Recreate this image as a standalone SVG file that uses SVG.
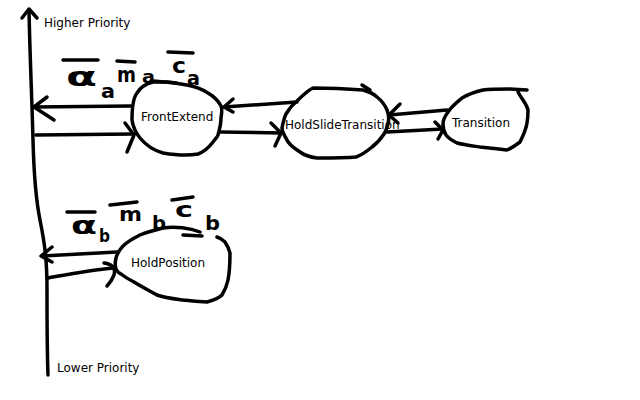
<svg xmlns="http://www.w3.org/2000/svg" width="640" height="400" viewBox="0 0 640 400">
<style>
.s{fill:none;stroke:#000;stroke-width:3.5;stroke-linecap:round;stroke-linejoin:round}
.t{font-family:"DejaVu Sans",sans-serif;font-size:12px;fill:#000}
.h{font-family:"DejaVu Sans",sans-serif;font-weight:bold;fill:#000}
</style>
<rect width="640" height="400" fill="#fff"/>
<g id="axis">
<path class="s" d="M29 10 C30 60 32 100 33 140 C34 180 36 200 40 220 C45 245 47 260 47 290 C47 320 47 350 48 375"/>
<path class="s" d="M22 18 L29 9 L37 18"/>
<text class="t" x="44" y="27">Higher Priority</text>
<text class="t" x="57" y="372">Lower Priority</text>
</g>
<g id="labelA">
<path class="s" d="M63 60 L98 60 M117 61 L135 62 M168 52 L193 53"/>
<text class="h" x="66" y="86" font-size="26" textLength="31" lengthAdjust="spacingAndGlyphs">α</text>
<text class="h" x="101" y="98" font-size="19" textLength="14" lengthAdjust="spacingAndGlyphs">a</text>
<text class="h" x="117" y="82" font-size="22" textLength="19" lengthAdjust="spacingAndGlyphs">m</text>
<text class="h" x="142" y="83" font-size="17" textLength="13" lengthAdjust="spacingAndGlyphs">a</text>
<text class="h" x="172" y="73" font-size="22" textLength="14" lengthAdjust="spacingAndGlyphs">c</text>
<text class="h" x="187" y="85" font-size="19" textLength="13" lengthAdjust="spacingAndGlyphs">a</text>
</g>
<g id="labelB">
<path class="s" d="M67 212 L95 212 M110 205 L137 202 M172 200 L193 197"/>
<text class="h" x="71" y="234" font-size="24" textLength="26" lengthAdjust="spacingAndGlyphs">α</text>
<text class="h" x="99" y="242" font-size="17" textLength="11" lengthAdjust="spacingAndGlyphs">b</text>
<text class="h" x="119" y="221" font-size="20" textLength="23" lengthAdjust="spacingAndGlyphs">m</text>
<text class="h" x="152" y="230" font-size="20" textLength="14" lengthAdjust="spacingAndGlyphs">b</text>
<text class="h" x="175" y="217" font-size="22" textLength="18" lengthAdjust="spacingAndGlyphs">c</text>
<text class="h" x="205" y="230" font-size="20" textLength="15" lengthAdjust="spacingAndGlyphs">b</text>
</g>
<g id="FrontExtend">
<path class="s" d="M153 82 C145 84 140 88 137 93 C133 98 132 110 132 120 C133 127 136 133 140 138 C145 144 152 150 163 153 C175 155 188 156 198 154 C206 151 210 146 213 142 C216 138 218 136 218 135 C220 128 221 122 221 118 C222 112 222 108 221 106 C218 100 213 96 208 93 C200 88 193 86 187 85 C180 84 172 82 167 82 Z"/>
<path class="s" d="M153 81 L176 83"/>
<text class="t" x="141" y="121">FrontExtend</text>
</g>
<g id="HoldSlideTransition">
<path class="s" d="M313 88 C330 88 350 89 363 90 C370 92 374 94 377 97 C382 101 385 105 387 110 C389 115 389 120 388 124 C387 128 386 131 384 134 C380 140 376 144 372 147 C366 152 362 155 356 157 C345 158 330 158 317 158 C309 157 304 155 300 152 C294 148 289 145 287 140 C284 135 282 131 282 128 C283 123 284 118 286 114 C289 109 292 105 297 101 C302 96 307 91 313 88 Z"/>
<path class="s" d="M362 85 L370 90"/>
<text class="t" x="285" y="129">HoldSlideTransition</text>
</g>
<g id="Transition">
<path class="s" d="M527 90 L510 89 C500 89 490 89 483 90 C474 92 467 95 462 98 C456 103 451 107 448 112 C445 116 443 120 443 124 C443 128 444 132 446 135 C449 139 453 141 457 143 C465 145 473 146 480 147 C490 148 500 149 507 150 C512 148 516 145 520 142 C523 136 526 130 527 123 C528 118 528 114 528 110 C527 106 525 103 523 100 C521 97 519 94 518 92"/>
<text class="t" x="452" y="127">Transition</text>
</g>
<g id="HoldPosition">
<path class="s" d="M200 232 C190 228 175 226 163 228 C155 230 147 232 140 235 C132 239 127 242 123 246 C119 250 117 254 116 258 C115 262 115 266 116 269 C117 271 118 273 121 274 C126 278 130 280 134 282 C142 287 150 291 157 295 C165 298 175 299 183 300 C192 301 200 302 207 302 C214 300 219 298 222 295 C225 290 227 285 228 280 C230 270 230 262 230 253 C229 248 227 245 225 242 C222 239 220 238 217 237"/>
<path class="s" d="M183 235 L202 236"/>
<text class="t" x="131" y="267">HoldPosition</text>
</g>
<g id="connectors">
<path class="s" d="M131 106 L34 107"/>
<path class="s" d="M47 97 L34 107 L54 120"/>
<path class="s" d="M36 135 L134 134"/>
<path class="s" d="M125 123 L134 135 L127 152"/>
<path class="s" d="M297 102 L224 107"/>
<path class="s" d="M233 99 L224 107 L233 112"/>
<path class="s" d="M220 132 L281 133"/>
<path class="s" d="M271 123 L281 133 L275 146"/>
<path class="s" d="M447 110 L389 115"/>
<path class="s" d="M400 104 L389 115 L398 123"/>
<path class="s" d="M387 132 L443 129"/>
<path class="s" d="M435 122 L443 130 L438 139"/>
<path class="s" d="M117 252 L42 256"/>
<path class="s" d="M52 247 L41 256 L52 262"/>
<path class="s" d="M48 278 C70 274 90 270 114 268"/>
<path class="s" d="M104 263 C112 264 116 268 114 275 C112 280 110 283 107 286"/>
</g>
</svg>
